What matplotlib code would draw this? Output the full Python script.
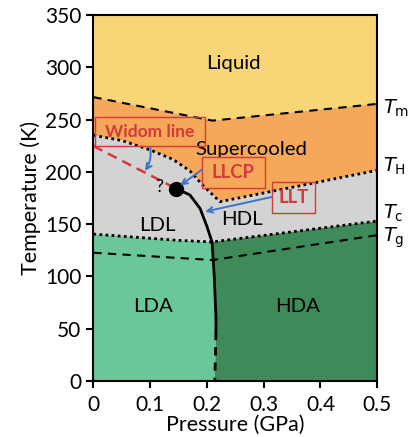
import numpy as np
import matplotlib.pyplot as plt
from matplotlib.patches import Rectangle

plt.rcParams["font.family"] = ["Lato", "DejaVu Sans"]

# boundaries (pressure GPa, temperature K)
tm_p = [0.0, 0.21, 0.5]
tm_t = [271.5, 249.0, 265.0]
th_p = [0.0, 0.05, 0.10, 0.14, 0.17, 0.195, 0.223, 0.5]
th_t = [235.0, 230.0, 221.0, 212.0, 201.0, 186.0, 171.5, 201.5]
tc_p = [0.0, 0.05, 0.10, 0.15, 0.209, 0.5]
tc_t = [140.5, 138.5, 136.5, 134.5, 133.0, 153.0]
tg_p = [0.0, 0.21, 0.5]
tg_t = [122.7, 115.7, 139.5]
widom_p = [0.0, 0.146]
widom_t = [224.7, 184.0]
llt_p = [0.146, 0.170, 0.188, 0.200, 0.209, 0.213, 0.216, 0.216]
llt_t = [184.0, 178.0, 165.0, 148.0, 133.0, 100.0, 60.0, 47.0]
llt_ext_p = [0.216, 0.214]
llt_ext_t = [47.0, 0.0]
llcp = (0.146, 184.0)

YELLOW, ORANGE, GREY = "#F8D678", "#F5A75A", "#D3D3D3"
LDA_C, HDA_C = "#6AC799", "#3F8A59"
RED, BLUE = "#D33A3A", "#3F72CF"

fig = plt.figure(figsize=(4.10, 4.37), dpi=100)
ax = fig.add_axes([0.2276, 0.128, 0.6925, 0.8377])
ax.set_xlim(0, 0.5)
ax.set_ylim(0, 350)

# filled regions
ax.fill_between(tm_p, tm_t, 350, color=YELLOW, lw=0)
ax.fill(tm_p + th_p[::-1], tm_t + th_t[::-1], color=ORANGE, lw=0)
ax.fill(th_p + tc_p[::-1], th_t + tc_t[::-1], color=GREY, lw=0)
ax.fill(tc_p[:5] + llt_p[5:] + llt_ext_p[1:] + [0.0],
        tc_t[:5] + llt_t[5:] + llt_ext_t[1:] + [0.0], color=LDA_C, lw=0)
ax.fill(tc_p[4:] + [0.5] + llt_ext_p[::-1] + llt_p[5:][::-1],
        tc_t[4:] + [0.0] + llt_ext_t[::-1] + llt_t[5:][::-1], color=HDA_C, lw=0)

# boundary lines
ax.plot(tm_p, tm_t, color="black", ls=(0, (4, 3)), lw=1.5)
ax.plot(th_p, th_t, color="black", ls=(0, (1, 1.2)), lw=2)
ax.plot(tc_p, tc_t, color="black", ls=(0, (1, 1.2)), lw=2)
ax.plot(tg_p, tg_t, color="black", ls=(0, (4, 3)), lw=1.5)
ax.plot(widom_p, widom_t, color=RED, ls=(0, (4, 2.5)), lw=1.8)
ax.plot(llt_p, llt_t, color="black", lw=2)
ax.plot(llt_ext_p, llt_ext_t, color="black", ls=(0, (3, 2.5)), lw=2)
ax.plot(*llcp, "o", color="black", ms=10, zorder=5)

# region labels
for txt, x, y in [("Liquid", 0.246, 304), ("Supercooled", 0.279, 221),
                  ("LDL", 0.112, 149), ("HDL", 0.261, 154),
                  ("LDA", 0.105, 71), ("HDA", 0.360, 71)]:
    ax.text(x, y, txt, fontsize=14.7, ha="center", va="center")
ax.text(0.116, 186, "?", fontsize=13, ha="center", va="center")

# red annotation boxes
boxes = [("Widom line", 0.003, 224.5, 0.193, 27.8, 12.5),
         ("LLCP", 0.191, 185.0, 0.111, 29.4, 13.3),
         ("LLT", 0.314, 161.0, 0.076, 29.0, 13.3)]
for txt, x0, y0, w, h, fs in boxes:
    ax.add_patch(Rectangle((x0, y0), w, h, fill=False, ec=RED, lw=1, zorder=6))
    ax.text(x0 + w / 2, y0 + h / 2, txt, color=RED, fontsize=fs,
            fontweight="bold", ha="center", va="center", zorder=6)

# blue arrows
arrows = [((0.100, 223.5), (0.091, 201.0), -0.2),
          ((0.191, 202.0), (0.153, 187.0), 0.0),
          ((0.314, 176.0), (0.197, 162.0), 0.0)]
for start, end, rad in arrows:
    ax.annotate("", xy=end, xytext=start, zorder=7,
                arrowprops=dict(arrowstyle="->", color=BLUE, lw=1.4,
                                connectionstyle=f"arc3,rad={rad}",
                                shrinkA=0, shrinkB=0))

# right-hand temperature labels
for lab, t in [("m", 261), ("H", 205), ("c", 160), ("g", 137)]:
    ax.text(0.51, t, rf"$T_\mathrm{{{lab}}}$", fontsize=14, ha="left", va="center",
            clip_on=False, family="DejaVu Sans")

ax.set_xticks([0, 0.1, 0.2, 0.3, 0.4, 0.5])
ax.set_xticklabels(["0", "0.1", "0.2", "0.3", "0.4", "0.5"])
ax.set_yticks(np.arange(0, 351, 50))
ax.tick_params(direction="out", length=5, width=1.5, labelsize=15)
ax.tick_params(axis="x", pad=5)
for s in ax.spines.values():
    s.set_linewidth(1.5)
ax.set_xlabel("Pressure (GPa)", fontsize=15.5, labelpad=0)
ax.set_ylabel("Temperature (K)", fontsize=15.5, labelpad=3)

fig.savefig("out.png", dpi=100)
